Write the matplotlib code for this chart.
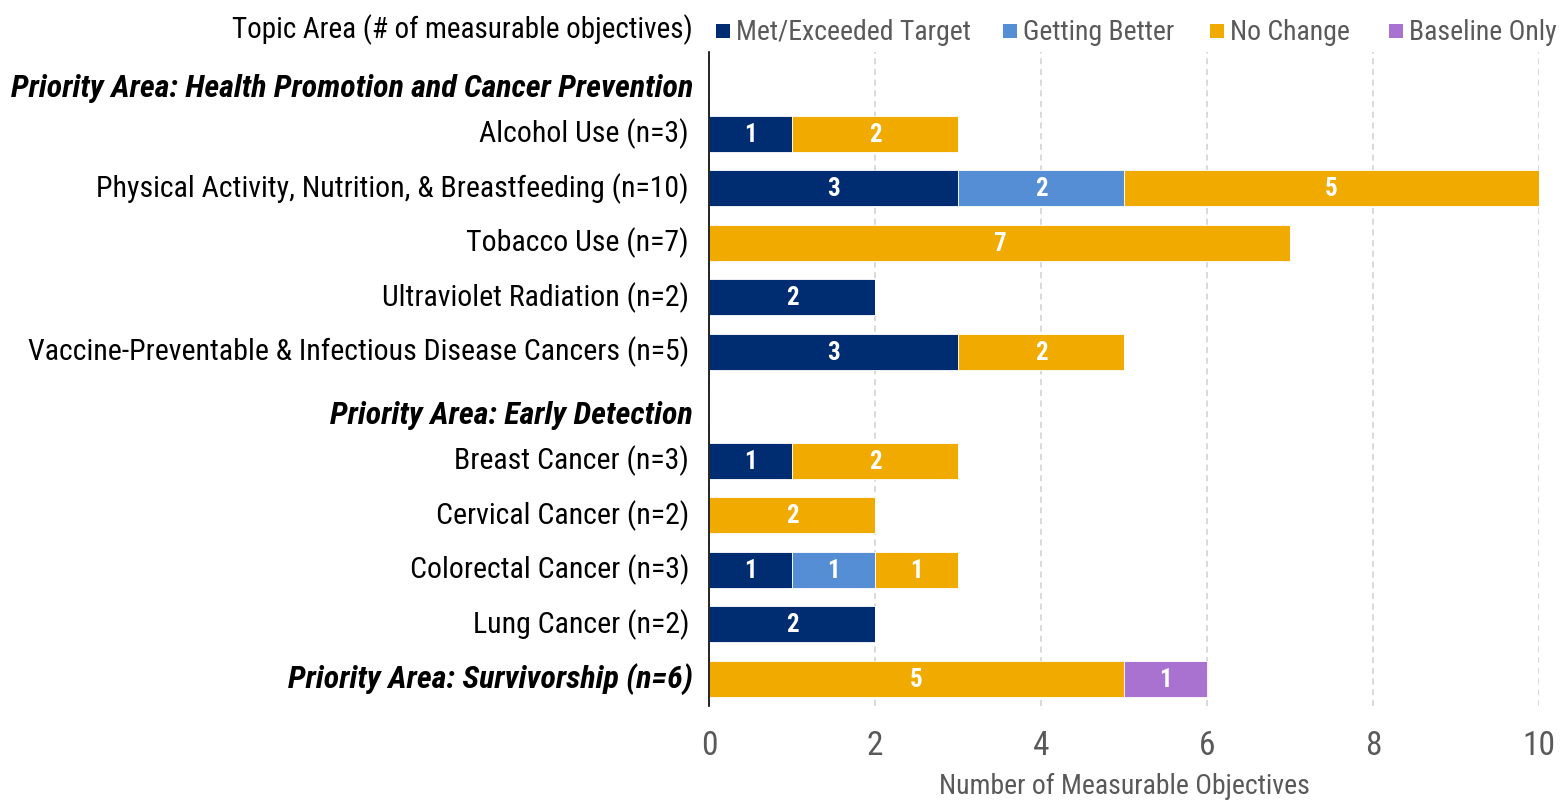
import matplotlib
matplotlib.use("Agg")
import matplotlib.pyplot as plt
from matplotlib.patches import Rectangle
from matplotlib import font_manager

# ---- data ----
categories = [
    "Priority Area: Health Promotion and Cancer Prevention",
    "Alcohol Use (n=3)",
    "Physical Activity, Nutrition, & Breastfeeding (n=10)",
    "Tobacco Use (n=7)",
    "Ultraviolet Radiation (n=2)",
    "Vaccine-Preventable & Infectious Disease Cancers (n=5)",
    "Priority Area: Early Detection",
    "Breast Cancer (n=3)",
    "Cervical Cancer (n=2)",
    "Colorectal Cancer (n=3)",
    "Lung Cancer (n=2)",
    "Priority Area: Survivorship (n=6)",
]
header_rows = [0, 6]
bold_rows = [0, 6, 11]
met = [0, 1, 3, 0, 2, 3, 0, 1, 0, 1, 2, 0]
better = [0, 0, 2, 0, 0, 0, 0, 0, 0, 1, 0, 0]
nochange = [0, 2, 5, 7, 0, 2, 0, 2, 2, 1, 0, 5]
baseline = [0, 0, 0, 0, 0, 0, 0, 0, 0, 0, 0, 1]
series_names = ["Met/Exceeded Target", "Getting Better", "No Change", "Baseline Only"]
colors = ["#002D72", "#558ED5", "#F0AA00", "#AA72D0"]
xticks = [0, 2, 4, 6, 8, 10]

names = {f.name for f in font_manager.fontManager.ttflist}
prefs = ["Arial Narrow", "Liberation Sans Narrow", "Roboto Condensed", "PT Sans Narrow",
         "Archivo Narrow", "Open Sans Condensed", "Pragati Narrow", "Liberation Sans"]
fam = next(p for p in prefs if p in names)
plt.rcParams["font.family"] = [fam, "DejaVu Sans"]

W, H = 1560, 801
fig = plt.figure(figsize=(W / 100, H / 100), dpi=100)
ax = fig.add_axes([709 / W, 1 - 706 / H, (1539 - 709) / W, (706 - 52) / H])

ypos = list(range(len(categories)))
left = [0] * len(categories)
for vals, col in zip([met, better, nochange, baseline], colors):
    bars = ax.barh(ypos, vals, left=left, height=0.66, color=col,
                   edgecolor="white", linewidth=0.6, zorder=3)
    for b, v, l in zip(bars, vals, left):
        if v > 0:
            ax.text(l + v / 2, b.get_y() + b.get_height() / 2 + 0.02, str(v),
                    ha="center", va="center", color="white", fontsize=18,
                    fontweight="bold", zorder=4)
    left = [a + b for a, b in zip(left, vals)]

ax.set_ylim(len(categories) - 0.5, -0.5)
ax.set_xlim(0, 10)
ax.set_xticks(xticks)
ax.set_xticklabels([str(t) for t in xticks], fontsize=24, color="#595959")
ax.tick_params(axis="x", length=0, pad=17)
ax.set_yticks(ypos)
ax.set_yticklabels([""] * len(categories))
ax.tick_params(axis="y", length=0)
for i, c in enumerate(categories):
    yy = i + (0.17 if i in header_rows else 0)
    if i in bold_rows:
        ax.text(-0.19, yy, c, ha="right", va="center", fontsize=23,
                fontstyle="italic", fontweight="bold", color="black")
    else:
        ax.text(-0.24, yy, c, ha="right", va="center", fontsize=21.5, color="black")

ax.grid(axis="x", color="#D0D0D0", linestyle=(0, (4, 3)), linewidth=1.1, zorder=0)
for s in ["top", "right", "bottom"]:
    ax.spines[s].set_visible(False)
ax.spines["left"].set_color("black")
ax.spines["left"].set_linewidth(1.2)
ax.spines["left"].set_zorder(5)
fig.text(1124 / W, 1 - 786 / H, "Number of Measurable Objectives", ha="center",
         va="center", fontsize=20, color="#595959")

fig.text(693 / W, 1 - 30 / H, "Topic Area (# of measurable objectives)",
         ha="right", va="center", fontsize=21, color="black")

# legend drawn at fixed figure positions
leg_x = [716, 1003, 1210, 1389]
sq = 14
for x0, name, col in zip(leg_x, series_names, colors):
    fig.patches.append(Rectangle((x0 / W, 1 - (31 + sq / 2) / H), sq / W, sq / H,
                                 transform=fig.transFigure, facecolor=col,
                                 edgecolor="none"))
    fig.text((x0 + sq + 6) / W, 1 - 32 / H, name, ha="left", va="center",
             fontsize=20, color="#595959")

fig.savefig("out.png", dpi=100)
